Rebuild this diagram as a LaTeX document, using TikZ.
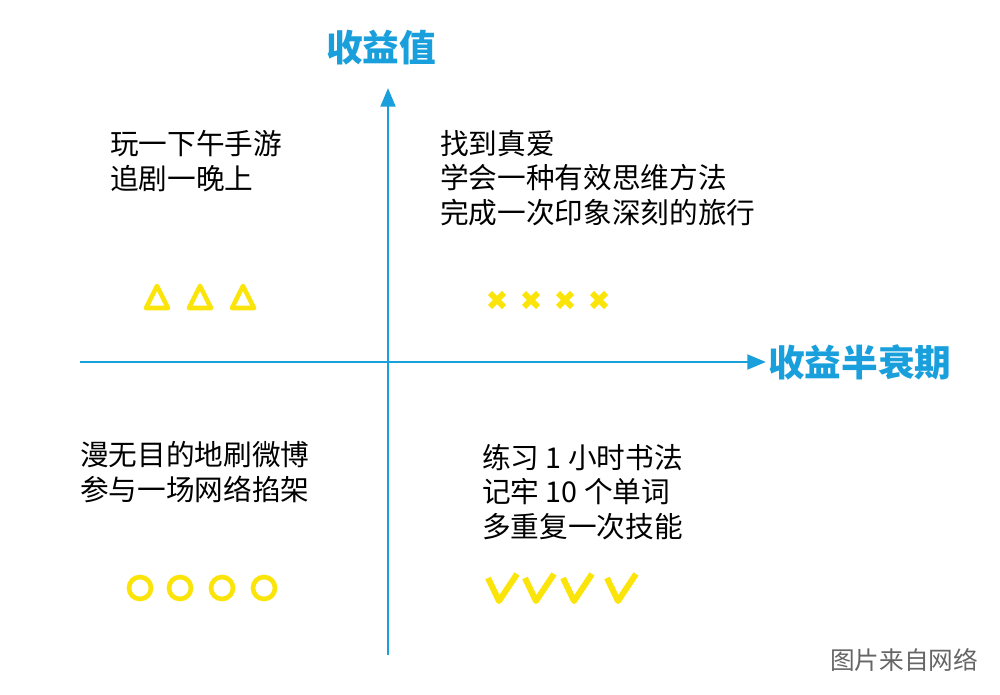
\documentclass[tikz,border=0pt]{standalone}
\usepackage{fontspec}
\setmainfont{Noto Sans CJK SC}
\usetikzlibrary{arrows.meta}
\definecolor{axc}{RGB}{25,160,220}
\definecolor{yel}{RGB}{250,228,10}
\tikzset{
 axis/.style={draw=axc,line width=2.2pt,-{Triangle[length=14pt,width=11pt]}},
 txt/.style={anchor=west,align=left,font=\fontsize{21.5}{26}\selectfont,inner sep=0pt},
 albl/.style={text=axc,font=\fontsize{27.5}{30}\selectfont\bfseries,inner sep=0pt},
 sym/.style={draw=yel,line width=3.5pt},
}
\begin{document}
\begin{tikzpicture}[x=0.75pt,y=-0.75pt]
\useasboundingbox (0,0) rectangle (1000,695);
\coordinate (vb) at (388,655); \coordinate (vt) at (388,88);
\coordinate (hl) at (80,362); \coordinate (hr) at (766,362);
\draw[axis] (vb) -- (vt);
\draw[axis] (hl) -- (hr);
\node[albl] (ylab) at (381,48) {收益值};
\node[albl,anchor=west] (xlab) at (768,362) {收益半衰期};
\node[txt] (tl) at (110,161) {玩一下午手游\\追剧一晚上};
\node[txt] (tr) at (440,178) {找到真爱\\学会一种有效思维方法\\完成一次印象深刻的旅行};
\node[txt] (bl) at (80,472) {漫无目的地刷微博\\参与一场网络掐架};
\node[txt] (br) at (482,492) {练习 1 小时书法\\记牢 10 个单词\\多重复一次技能};
\foreach \x in {157,200,243}
  \draw[sym,line join=round] (\x-11,308) -- (\x,286) -- (\x+11,308) -- cycle;
\foreach \x in {497,531,565,599}
  \draw[sym,line width=4.5pt] (\x-7,293)--(\x+7,307) (\x-7,307)--(\x+7,293);
\foreach \x in {140,180,222,264}
  \draw[sym] (\x,588) circle (11);
\foreach \x in {503,540,578,622}
  \draw[sym,line width=4.5pt,line join=round] (\x-15,578)--(\x-4,601)--(\x+14,574);
\node[anchor=center,text=black!60,font=\fontsize{18.5}{20}\selectfont] (src) at (904,660) {图片来自网络};
\end{tikzpicture}
\end{document}
